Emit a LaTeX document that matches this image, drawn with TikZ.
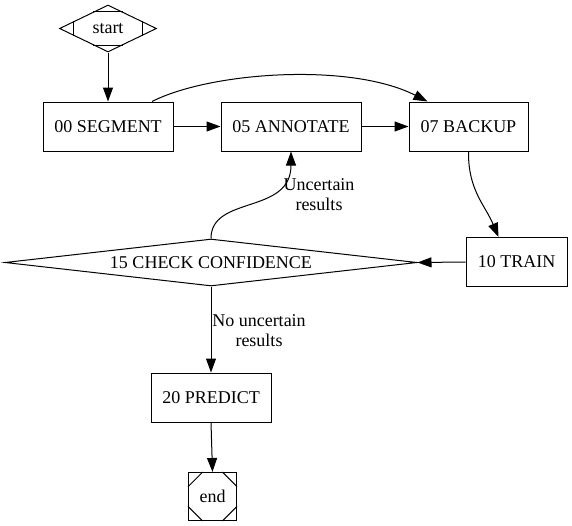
\documentclass[tikz,border=0pt]{standalone}
\usepackage{fontspec}
\setmainfont{Liberation Serif}
\usetikzlibrary{shapes.geometric,arrows.meta,calc}
\tikzset{
  box/.style={draw, line width=1pt, rectangle, minimum width=#1, minimum height=49pt, inner sep=0pt, font=\fontsize{18}{20}\selectfont},
  dia/.style={draw, line width=1pt, diamond, inner sep=0pt, font=\fontsize{18}{20}\selectfont},
  arr/.style={draw, line width=1pt, -{Triangle[length=14pt,width=10pt]}},
  cornerline/.style={line width=1pt},
  lbl/.style={align=center, inner sep=0pt, font=\fontsize{18}{20}\selectfont}
}
\begin{document}
\begin{tikzpicture}[x=1pt,y=-1pt]
\useasboundingbox (0,0) rectangle (572,525);
\node[dia, shape aspect=2.06, minimum width=97pt, minimum height=47pt] (start) at (108,28.5) {start};
\draw[cornerline] ($(start.north)!0.3!(start.west)$) -- ($(start.north)!0.3!(start.east)$);
\draw[cornerline] ($(start.south)!0.3!(start.west)$) -- ($(start.south)!0.3!(start.east)$);
\draw[cornerline] ($(start.west)!0.3!(start.north)$) -- ($(start.west)!0.3!(start.south)$);
\draw[cornerline] ($(start.east)!0.3!(start.north)$) -- ($(start.east)!0.3!(start.south)$);

\node[box=130pt] (seg) at (108,126.5) {00 SEGMENT};
\node[box=140pt] (ann) at (291,126.5) {05 ANNOTATE};
\node[box=119pt] (bak) at (468.5,126.5) {07 BACKUP};
\node[box=101pt] (train) at (516.5,262) {10 TRAIN};
\node[dia, shape aspect=8.77, minimum width=412pt, minimum height=47pt] (check) at (211,262.5) {15 CHECK CONFIDENCE};
\node[box=120pt] (pred) at (211,397.5) {20 PREDICT};
\node[box=48pt, minimum height=48pt] (end) at (212.5,496.5) {end};
\draw[cornerline] ($(end.north west)!0.3!(end.north east)$) -- ($(end.north west)!0.3!(end.south west)$);
\draw[cornerline] ($(end.north east)!0.3!(end.north west)$) -- ($(end.north east)!0.3!(end.south east)$);
\draw[cornerline] ($(end.south west)!0.3!(end.south east)$) -- ($(end.south west)!0.3!(end.north west)$);
\draw[cornerline] ($(end.south east)!0.3!(end.south west)$) -- ($(end.south east)!0.3!(end.north east)$);

\draw[arr] (start.south) -- (seg.north);
\draw[arr] (seg.east) -- (ann.west);
\draw[arr] (ann.east) -- (bak.west);
\draw[arr] ([xshift=44pt]seg.north) .. controls (210,72) and (350,62) .. ([xshift=-41pt]bak.north);
\draw[arr] (bak.south) .. controls (468,190) and (485,205) .. ([xshift=-18pt]train.north);
\draw[arr] (train.west) -- (check.east);
\draw[arr] (check.north) .. controls (211,195) and (291,215) .. (ann.south);
\draw[arr] (check.south) -- (pred.north);
\draw[arr] (pred.south) -- (end.north);

\node[lbl] (l1) at (319,195) {Uncertain\\results};
\node[lbl] (l2) at (259,331) {No uncertain\\results};
\end{tikzpicture}
\end{document}
